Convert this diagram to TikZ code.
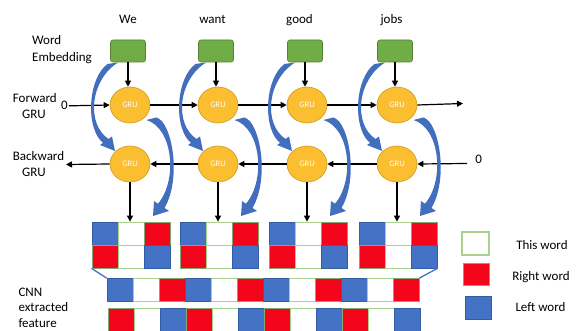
\documentclass[tikz,border=0pt]{standalone}
\usepackage{fontspec}
\setmainfont{Carlito}
\usetikzlibrary{arrows.meta,shapes.geometric}
\definecolor{embg}{RGB}{112,173,71}
\definecolor{embd}{RGB}{84,130,53}
\definecolor{grufill}{RGB}{250,190,48}
\definecolor{grudraw}{RGB}{205,155,35}
\definecolor{cblue}{RGB}{68,114,196}
\definecolor{arcblue}{RGB}{66,110,190}
\definecolor{cbluedark}{RGB}{52,92,165}
\definecolor{cred}{RGB}{243,6,28}
\definecolor{cgreen}{RGB}{169,209,142}
\begin{document}
\begin{tikzpicture}[x=1pt,y=-1pt,
  font=\fontsize{13}{16}\selectfont,
  lbl/.style={inner sep=0pt, anchor=base west},
  clbl/.style={inner sep=0pt, anchor=base},
  emb/.style={draw=embd, fill=embg, rounded corners=2.5pt, minimum width=35pt, minimum height=22pt, inner sep=0pt, line width=0.6pt},
  gru/.style={ellipse, draw=grudraw, fill=grufill, minimum width=40pt, minimum height=36pt, inner sep=0pt, text=white, line width=0.6pt, font=\fontsize{8.5}{10}\selectfont},
  arr/.style={line width=1.2pt, -{Triangle[length=6pt,width=6pt]}},
  cell/.style={minimum width=26pt, minimum height=23pt, inner sep=0pt, line width=0.8pt},
  cw/.style={cell, fill=white, draw=cgreen},
  cr/.style={cell, fill=cred, draw=cgreen!80!black},
  cb/.style={cell, fill=cblue, draw=cbluedark},
  blueline/.style={draw=cblue, line width=1.3pt}]
\fill[white] (0,0) rectangle (576,331);
\useasboundingbox (0,0) rectangle (576,331);

% left labels
\node[lbl] (lwA) at (32,45) {Word};
\node[lbl] (lwB) at (32,61.7) {Embedding};
\node[lbl] (lfA) at (12.7,102.3) {Forward};
\node[lbl] (lfB) at (22,118.3) {GRU};
\node[lbl] (lbA) at (12.7,160.7) {Backward};
\node[lbl] (lbB) at (22,176.7) {GRU};
\node[lbl] (lcA) at (18.3,296.7) {CNN};
\node[lbl] (lcB) at (18.3,311.7) {extracted};
\node[lbl] (lcC) at (18.3,327.3) {feature};

% words
\node[clbl] (w1) at (128,23.3) {We};
\node[clbl] (w2) at (212.5,23.3) {want};
\node[clbl] (w3) at (299.5,23.3) {good};
\node[clbl] (w4) at (391.5,23.3) {jobs};

% columns
\foreach \i/\x in {1/130,2/218,3/307,4/397}{
  \node[emb] (e\i) at (\x-2,51) {};
  \node[gru] (f\i) at (\x,105) {GRU};
  \node[gru] (g\i) at (\x,164) {GRU};
  \node[cb] (c\i-1-1) at (\x-25,233.5) {};
  \node[cw] (c\i-1-2) at (\x+1,233.5) {};
  \node[cr] (c\i-1-3) at (\x+27,233.5) {};
  \node[cr] (c\i-2-1) at (\x-25,256.5) {};
  \node[cw] (c\i-2-2) at (\x+1,256.5) {};
  \node[cb] (c\i-2-3) at (\x+27,256.5) {};
  \draw[arr] (e\i.south) -- (e\i.south |- f\i.north);
  \draw[arr] (g\i.south) -- (g\i.south |- c\i-1-2.north);
}

% long rows
\foreach \k/\s in {0/cb,1/cw,2/cr,3/cb,4/cw,5/cr,6/cb,7/cw,8/cr,9/cb,10/cw,11/cr}{
  \node[\s] (L3-\k) at (120+26*\k,290) {};
}
\foreach \k/\s in {0/cr,1/cw,2/cb,3/cr,4/cw,5/cb,6/cr,7/cw,8/cb,9/cr,10/cw,11/cb}{
  \node[\s] (L4-\k) at (121+26*\k,319.5) {};
}
\draw[blueline] (c1-2-1.south west) -- (L3-0.north west);
\draw[blueline] (c4-2-3.south east) -- (L3-11.north east);

% forward chain
\node[clbl] (z1) at (64.5,110) {0};
\coordinate (fend) at (463,103.5);
\draw[arr] ([xshift=1pt]z1.east) -- (f1.west);
\draw[arr] (f1.east) -- (f2.west);
\draw[arr] (f2.east) -- (f3.west);
\draw[arr] (f3.east) -- (f4.west);
\draw[arr] (f4.east) -- (fend);

% backward chain
\node[clbl] (z2) at (478.7,163.3) {0};
\coordinate (bstart) at (467,163.5);
\coordinate (bend) at (66,164.5);
\draw[arr] (bstart) -- (g4.east);
\draw[arr] (g4.west) -- (g3.east);
\draw[arr] (g3.west) -- (g2.east);
\draw[arr] (g2.west) -- (g1.east);
\draw[arr] (g1.west) -- (bend);

% curved blue arrows
\foreach \x in {130,218,307,397}{
  \begin{scope}[shift={(\x,0)}]
    \fill[arcblue] (-12,62.5) .. controls (-40,80) and (-44,124) .. (-21.5,139)
       -- (-18,136.5) -- (-15,151) -- (-30,145) -- (-27,143)
       .. controls (-45,128) and (-42,78) .. (-22.5,64) -- cycle;
    \fill[arcblue] (16.5,120) .. controls (43,128) and (48,180) .. (28,203.7)
       -- (24,201) -- (23,216) -- (39,211) -- (34.5,208)
       .. controls (52,178) and (42,122) .. (26.5,117.5) -- cycle;
  \end{scope}
}

% legend
\node[cell, fill=white, draw=cgreen, line width=1.3pt, minimum width=27pt] (kw) at (475.5,243.5) {};
\node[cr, minimum height=22pt] (kr) at (476,274) {};
\node[cb] (kb) at (478,307.5) {};
\node[clbl] (tw) at (542,249.3) {This word};
\node[clbl] (tr) at (541,280) {Right word};
\node[clbl] (tb) at (540.5,311.7) {Left word};
\end{tikzpicture}
\end{document}
